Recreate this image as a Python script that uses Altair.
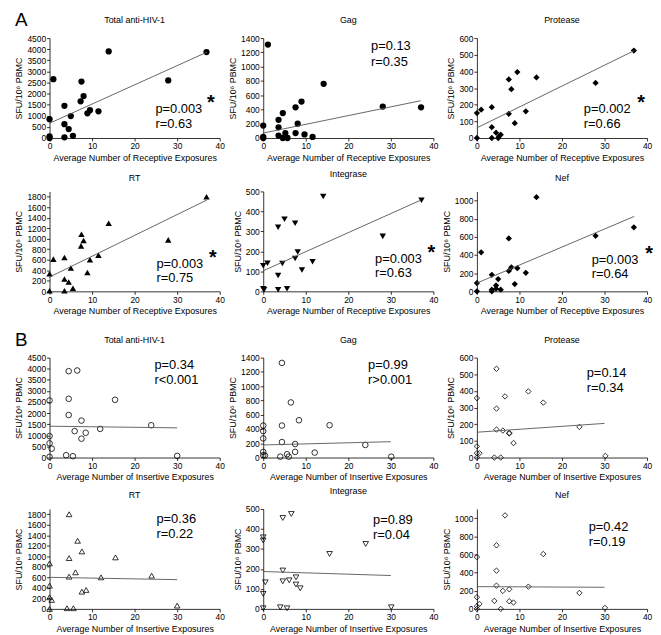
import altair as alt
import pandas as pd

# ---------------- data ----------------
# A: receptive exposures
rec_total_x = [0, 0, 0, 0.9, 3.5, 3.5, 3.5, 4.5, 5.0, 5.5, 7.5, 7.3, 8.0, 8.9, 9.5, 11.5, 13.9, 27.9, 36.9]
rec_total_y = [70, 0, 850, 2650, 1450, 620, 30, 400, 990, 100, 2540, 1650, 1890, 1110, 1250, 1200, 3900, 2590, 3870]
rec_gag_x = [1.1, 0, 0, 0, 3.6, 3.6, 3.6, 4.6, 4.6, 5.2, 5.7, 7.6, 7.6, 8.1, 9.0, 9.7, 11.6, 14.2, 28.1, 37.1]
rec_gag_y = [1310, 0, 15, 175, 255, 150, 35, 350, 0, 70, 0, 430, 70, 200, 510, 50, 15, 760, 440, 430]
rec_pro_x = [0, 0, 1.0, 3.5, 3.5, 3.5, 4.5, 5.0, 5.2, 5.6, 7.5, 7.5, 8.1, 8.9, 9.5, 11.5, 14.0, 27.9, 36.9]
rec_pro_y = [150, 0, 170, 185, 65, 0, 32, 0, 10, 20, 352, 145, 293, 89, 396, 160, 364, 331, 525]
rec_rt_x = [0, 0, 0.9, 3.5, 3.5, 3.5, 4.5, 5.0, 5.5, 7.5, 7.4, 8.0, 8.9, 9.5, 11.5, 13.9, 27.9, 36.9]
rec_rt_y = [335, 13, 613, 644, 234, 13, 177, 442, 57, 1086, 865, 966, 360, 600, 688, 1295, 979, 1800]
rec_int_x = [0, 0, 0.2, 1.0, 3.5, 3.5, 3.5, 4.5, 5.0, 5.6, 7.5, 7.5, 8.1, 9.1, 11.6, 14.1, 28.1, 37.2]
rec_int_y = [128, 13, 8, 141, 321, 79, 8, 139, 361, 13, 341, 164, 197, 107, 148, 475, 275, 456]
rec_nef_x = [0, 0, 1.0, 3.5, 3.5, 3.5, 4.5, 4.5, 5.0, 5.6, 7.5, 7.5, 8.1, 8.9, 9.5, 11.5, 14.0, 27.9, 36.9]
rec_nef_y = [91, 0, 429, 182, 18, 0, 65, 29, 135, 18, 582, 225, 265, 80, 255, 204, 1036, 611, 705]

# B: insertive exposures
ins_total_x = [0, 0, 0, 0.5, 0, 4.5, 6.5, 4.5, 4.5, 3.9, 5.5, 5.9, 7.5, 7.5, 8.5, 11.9, 15.4, 23.9, 30.0]
ins_total_y = [2570, 965, 640, 400, 30, 3890, 3920, 2645, 1915, 105, 60, 1190, 1665, 850, 1115, 1290, 2600, 1455, 75]
ins_gag_x = [0, 0, 0, 0, 0, 0.4, 4.4, 4.4, 4.4, 4.0, 5.6, 6.0, 6.5, 7.5, 7.5, 8.4, 12.1, 15.6, 24.0, 30.1]
ins_gag_y = [448, 370, 268, 79, 32, 28, 1326, 448, 217, 12, 46, 12, 772, 189, 79, 522, 69, 453, 176, 12]
ins_pro_x = [0, 0, 0, 0.6, 0, 4.6, 4.6, 4.6, 4.1, 5.6, 6.1, 6.6, 7.6, 7.6, 8.6, 12.1, 15.6, 24.1, 30.2]
ins_pro_y = [357, 67, 26, 26, 0, 533, 294, 168, 0, 0, 162, 367, 144, 148, 87, 397, 330, 184, 10]
ins_rt_x = [0, 0, 0, 0.5, 0, 4.6, 4.6, 4.6, 4.1, 5.6, 6.6, 6.1, 7.6, 7.6, 8.6, 12.1, 15.5, 24.0, 30.0]
ins_rt_y = [865, 442, 221, 171, 0, 1800, 966, 613, 13, 13, 1295, 695, 1093, 328, 360, 600, 979, 632, 63]
ins_int_x = [0, 0, 0, 0, 0.5, 4.6, 4.6, 4.6, 4.0, 5.6, 6.1, 6.6, 7.7, 7.7, 8.7, 15.6, 24.1, 30.1]
ins_int_y = [358, 342, 75, 3, 133, 455, 192, 138, 8, 3, 143, 475, 158, 122, 103, 275, 325, 8]
ins_nef_x = [0, 0, 0, 0, 0.6, 4.6, 4.6, 4.6, 4.1, 5.6, 6.1, 6.6, 7.6, 7.6, 8.6, 12.1, 15.6, 24.1, 30.1]
ins_nef_y = [571, 128, 29, 0, 55, 700, 421, 256, 88, 0, 198, 1029, 216, 84, 70, 245, 604, 176, 11]

# fitted lines (end points)
fit_rec_x = [0, 37]
fit_rec_total_y = [664, 3866]
fit_rec_gag_y = [69, 522]
fit_rec_pro_y = [61, 525]
fit_rec_rt_y = [272, 1737]
fit_rec_int_y = [103, 456]
fit_rec_nef_y = [91, 825]
fit_ins_x = [0, 30]
fit_ins_total_y = [1411, 1337]
fit_ins_gag_y = [176, 222]
fit_ins_pro_y = [152, 205]
fit_ins_rt_y = [600, 556]
fit_ins_int_y = [187, 167]
fit_ins_nef_y = [245, 238]

# statistics text
p_rec = ["p=0.003", "p=0.13", "p=0.002", "p=0.003", "p=0.003", "p=0.003"]
r_rec = ["r=0.63", "r=0.35", "r=0.66", "r=0.75", "r=0.63", "r=0.64"]
star_rec = [True, False, True, True, True, True]
p_ins = ["p=0.34", "p=0.99", "p=0.14", "p=0.36", "p=0.89", "p=0.42"]
r_ins = ["r<0.001", "r>0.001", "r=0.34", "r=0.22", "r=0.04", "r=0.19"]

titles = ["Total anti-HIV-1", "Gag", "Protease", "RT", "Integrase", "Nef"]
y_max = [4500, 1400, 600, 1900, 500, 1100]
y_top_tick = [4500, 1400, 600, 1800, 500, 1000]
y_step = [500, 200, 100, 200, 100, 200]
x_ticks = [0, 10, 20, 30, 40]

# ---------------- layout / style ----------------
FONT = "Liberation Sans"
W, H = 172, 101
shapes = ["circle", "circle", "diamond", "triangle-up", "triangle-down", "diamond"]
sizes_filled = [40, 40, 40, 42, 42, 40]
sizes_open = [32, 32, 30, 32, 32, 30]
# (text left, p height above axis, r height above axis, star x)
ann_rec = [(107, 29, 14, 163), (109, 93, 77, None), (108, 29, 14, 166),
           (108, 28, 13, 165), (113, 33, 18, 170), (116, 32, 17, 174)]
ann_ins = [(106, 93, 78, None), (106, 93, 78, None), (111, 85, 70, None),
           (108, 91, 76, None), (111, 90, 75, None), (113, 83, 68, None)]


def panel(i, xs, ys, lx, ly, xtitle, filled, ptxt, rtxt, ann, star):
    df = pd.DataFrame({"x": xs, "y": ys})
    ticks = list(range(0, y_top_tick[i] + 1, y_step[i]))
    xscale = alt.Scale(domain=[0, 40], nice=False)
    yscale = alt.Scale(domain=[0, y_max[i]], nice=False)
    xaxis = alt.Axis(values=x_ticks, title=xtitle, format="d", labelOverlap=False,
                     labelFlush=False)
    yaxis = alt.Axis(values=ticks, title="SFU/10⁶ PBMC", format="d", labelOverlap=False,
                     labelFlush=False)
    if filled:
        pts_mark = dict(shape=shapes[i], filled=True, size=sizes_filled[i],
                        color="black", opacity=1, strokeWidth=0)
    else:
        pts_mark = dict(shape=shapes[i], filled=False, size=sizes_open[i],
                        color="black", opacity=1, strokeWidth=0.8)
    pts = alt.Chart(df).mark_point(**pts_mark).encode(
        x=alt.X("x:Q", scale=xscale, axis=xaxis),
        y=alt.Y("y:Q", scale=yscale, axis=yaxis),
    )
    line = alt.Chart(pd.DataFrame({"x": lx, "y": ly})).mark_line(
        color="#555555", strokeWidth=0.9
    ).encode(x=alt.X("x:Q", scale=xscale, axis=xaxis),
             y=alt.Y("y:Q", scale=yscale, axis=yaxis))
    tx, pa, ra, sx = ann
    ptext = alt.Chart(pd.DataFrame({"t": [ptxt]})).mark_text(
        align="left", baseline="middle", font=FONT, fontSize=13, color="black"
    ).encode(text="t:N", x=alt.value(tx), y=alt.value(H - pa))
    rtext = alt.Chart(pd.DataFrame({"t": [rtxt]})).mark_text(
        align="left", baseline="middle", font=FONT, fontSize=13, color="black"
    ).encode(text="t:N", x=alt.value(tx), y=alt.value(H - ra))
    layers = [pts, line, ptext, rtext]
    if star:
        layers.append(alt.Chart(pd.DataFrame({"t": ["*"]})).mark_text(
            align="center", baseline="top", font=FONT, fontSize=20, fontWeight="bold", color="black"
        ).encode(text="t:N", x=alt.value(sx), y=alt.value(H - pa - 16)))
    return alt.layer(*layers).properties(
        width=W, height=H,
        title=alt.TitleParams(titles[i], font=FONT, fontSize=9, fontWeight="normal",
                              color="black", offset=9, frame="group", anchor="middle"),
    )


rec_x = [rec_total_x, rec_gag_x, rec_pro_x, rec_rt_x, rec_int_x, rec_nef_x]
rec_y = [rec_total_y, rec_gag_y, rec_pro_y, rec_rt_y, rec_int_y, rec_nef_y]
rec_fit = [fit_rec_total_y, fit_rec_gag_y, fit_rec_pro_y, fit_rec_rt_y, fit_rec_int_y, fit_rec_nef_y]
ins_x = [ins_total_x, ins_gag_x, ins_pro_x, ins_rt_x, ins_int_x, ins_nef_x]
ins_y = [ins_total_y, ins_gag_y, ins_pro_y, ins_rt_y, ins_int_y, ins_nef_y]
ins_fit = [fit_ins_total_y, fit_ins_gag_y, fit_ins_pro_y, fit_ins_rt_y, fit_ins_int_y, fit_ins_nef_y]

panels_a = [panel(i, rec_x[i], rec_y[i], fit_rec_x, rec_fit[i],
                  "Average Number of Receptive Exposures", True,
                  p_rec[i], r_rec[i], ann_rec[i], star_rec[i]) for i in range(6)]
panels_b = [panel(i, ins_x[i], ins_y[i], fit_ins_x, ins_fit[i],
                  "Average Number of Insertive Exposures", False,
                  p_ins[i], r_ins[i], ann_ins[i], False) for i in range(6)]


def letter(t):
    return alt.TitleParams(t, font=FONT, fontSize=19, fontWeight="normal", color="black",
                           anchor="start", offset=0, dy=14)


block_a = alt.concat(*panels_a, columns=3, spacing={"row": 54, "column": 44},
                     bounds="flush", title=letter("A"))
block_b = alt.concat(*panels_b, columns=3, spacing={"row": 52, "column": 44},
                     bounds="flush", title=letter("B"))

chart = alt.vconcat(block_a, block_b, spacing=15).properties(
    padding={"left": 7, "top": 0, "right": 0, "bottom": 0}
).configure_view(
    stroke=None
).configure_axis(
    domainColor="black", tickColor="black", labelColor="black", titleColor="black",
    labelFont=FONT, titleFont=FONT, labelFontSize=8.5, titleFontSize=9,
    titleFontWeight="normal", tickSize=3, grid=False, labelPadding=1,
    domainWidth=0.8, tickWidth=0.8, labelFlush=False, labelOverlap=False,
    titlePadding=3,
)

chart.save("out.html", embed_options={"renderer": "svg", "actions": False})
